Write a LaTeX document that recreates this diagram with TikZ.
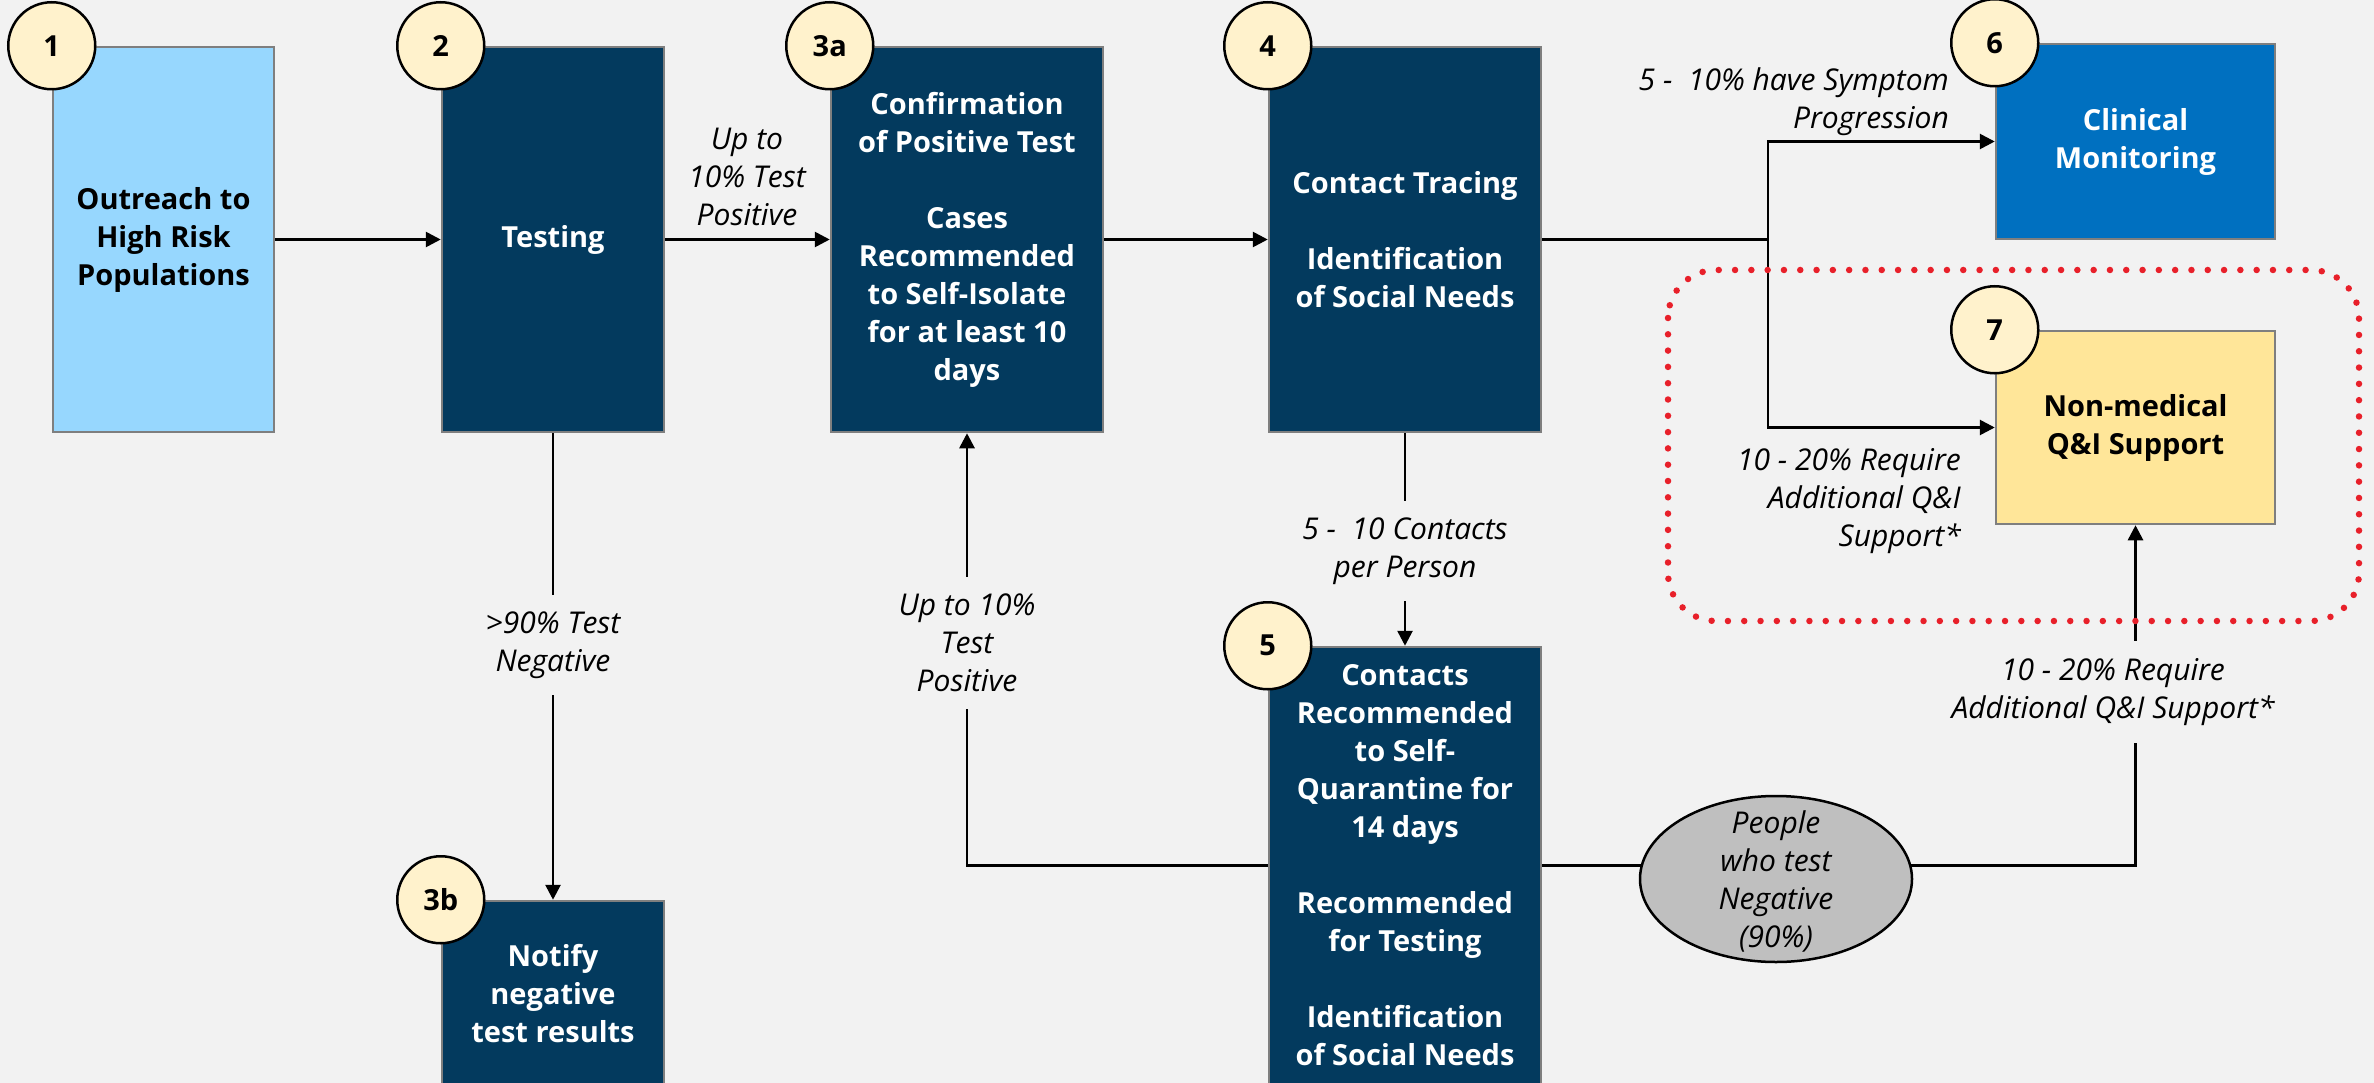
\documentclass[tikz,border=0pt]{standalone}
\usepackage{fontspec}
\setmainfont{Open Sans}
\usetikzlibrary{arrows.meta,shapes.geometric}

\definecolor{bg}{HTML}{F2F2F2}
\definecolor{navy}{HTML}{033A5E}
\definecolor{skyfill}{HTML}{97D7FE}
\definecolor{clinblue}{HTML}{0070C0}
\definecolor{goldfill}{HTML}{FFE699}
\definecolor{badgefill}{HTML}{FFF2CC}
\definecolor{boxline}{HTML}{7F7F7F}
\definecolor{negfill}{HTML}{BFBFBF}
\definecolor{dotred}{HTML}{E8202A}

\newcommand{\boxfont}{\fontsize{29}{38}\selectfont\bfseries}
\newcommand{\lblfont}{\fontsize{30}{38}\selectfont\itshape}

\tikzset{
	box/.style={draw=boxline, line width=2.5pt, align=center, font=\boxfont, inner sep=0pt},
	navybox/.style={box, fill=navy, text=white},
	badge/.style={circle, draw=black, line width=2.5pt, fill=badgefill, minimum size=87pt, inner sep=0pt, font=\boxfont},
	lbl/.style={align=center, font=\lblfont, inner sep=0pt},
	gaplbl/.style={lbl, fill=bg, inner ysep=17pt},
	conn/.style={line width=2.7pt},
	arr/.style={conn, -{Triangle[length=15pt,width=15pt]}},
	reddots/.style={dotred, line width=6.5pt, line cap=round, dash pattern=on 0pt off 16.3pt, rounded corners=48pt}
}

\begin{document}
\begin{tikzpicture}[x=1pt,y=-1pt]
	\useasboundingbox (0,0) rectangle (2374,1083);
	\fill[bg] (0,0) rectangle (2374,1083);

	\node[box, fill=skyfill, minimum width=221pt, minimum height=385pt] (b1) at (163.5,239.5) {Outreach to\\High Risk\\Populations};
	\node[navybox, minimum width=222pt, minimum height=385pt] (b2) at (553,239.5) {Testing};
	\node[navybox, minimum width=272pt, minimum height=385pt] (b3a) at (967,239.5) {Confirmation\\of Positive Test\\[38pt]Cases\\Recommended\\to Self-Isolate\\for at least 10\\days};
	\node[navybox, minimum width=222pt, minimum height=185pt] (b3b) at (553,993.5) {Notify\\negative\\test results};
	\node[navybox, minimum width=272pt, minimum height=385pt] (b4) at (1405,239.5) {Contact Tracing\\[38pt]Identification\\of Social Needs};
	\node[navybox, minimum width=272pt, minimum height=437pt] (b5) at (1405,865.5) {Contacts\\Recommended\\to Self-\\Quarantine for\\14 days\\[38pt]Recommended\\for Testing\\[38pt]Identification\\of Social Needs};
	\node[box, fill=clinblue, text=white, minimum width=279pt, minimum height=195pt] (b6) at (2135.5,141.5) {Clinical\\Monitoring};
	\node[box, fill=goldfill, minimum width=279pt, minimum height=193pt] (b7) at (2135.5,427.5) {Non-medical\\Q\&I Support};
	\node[ellipse, draw=black, line width=2.5pt, fill=negfill, minimum width=272pt, minimum height=166pt, inner sep=0pt, font=\lblfont] (neg) at (1776,879)
		{\smash{\raisebox{-10pt}{\begin{tabular}{@{}c@{}}People\\who test\\Negative\\(90\%)\end{tabular}}}};

	\foreach \b/\n in {b1/1,b2/2,b3a/3a,b3b/3b,b4/4,b5/5,b6/6,b7/7}
		\node[badge] (c\b) at (\b.north west) {\n};

	\draw[arr] (b1.east) -- (b2.west);
	\draw[arr] (b2.east) -- (b3a.west);
	\draw[arr] (b3a.east) -- (b4.west);
	\coordinate (split) at (1768,239.5);
	\draw[conn] (b4.east) -- (split);
	\draw[arr] (split) |- (b6.west);
	\draw[arr] (split) |- (b7.west);
	\draw[arr] (b2.south) -- (b3b.north);
	\draw[arr] (b4.south) -- (b5.north);
	\draw[arr] (b5.west) -| (b3a.south);
	\draw[conn] (b5.east) -- (b5.east -| neg.174);
	\coordinate (turn) at (b7.south |- b5.east);
	\draw[arr] (b5.east -| neg.6) -- (turn) -- (b7.south);

	\node[lbl] (uplbl) at (747,177) {Up to\\10\% Test\\Positive};
	\node[gaplbl] (neglbl) at (553,645) {>90\% Test\\Negative};
	\node[gaplbl] (poslbl) at (967,643) {Up to 10\%\\Test\\Positive};
	\node[gaplbl] (ctclbl) at (1405,551) {5 -\ \ 10 Contacts\\per Person};
	\node[gaplbl] (qilbl) at (2113,692) {10 - 20\% Require\\Additional Q\&I Support*};
	\node[lbl, align=right, anchor=east] (symlbl) at (1949,102) {5 -\ \ 10\% have Symptom\\Progression};
	\node[lbl, align=right, anchor=east] (reqlbl) at (1961,501) {10 - 20\% Require\\Additional Q\&I\\Support*};

	\draw[reddots] (1668,270) rectangle (2359,621);
\end{tikzpicture}
\end{document}
